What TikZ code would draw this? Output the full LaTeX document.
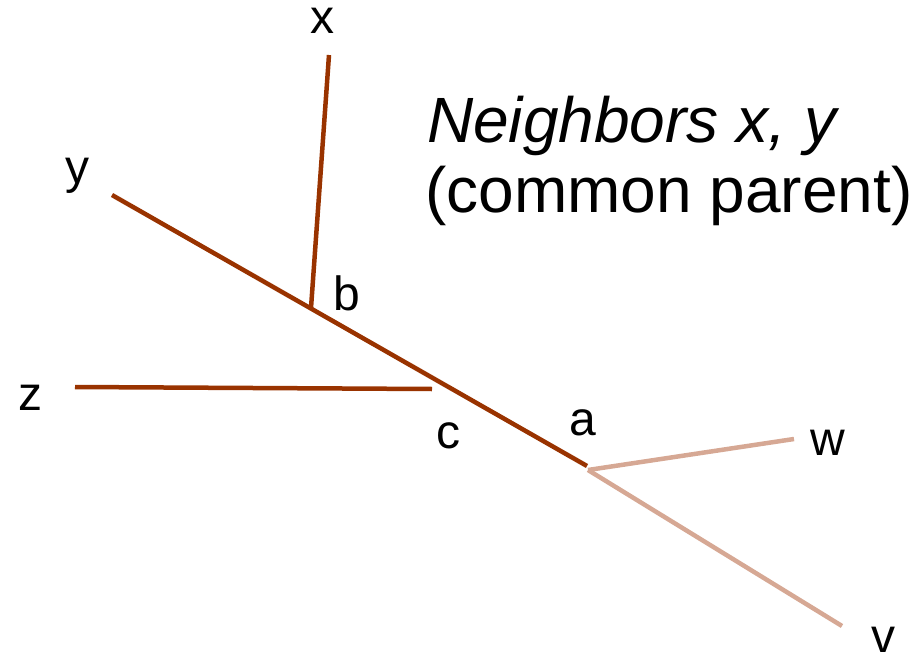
\documentclass[tikz,border=0pt]{standalone}
\usepackage{fontspec}
\setmainfont{Liberation Sans}
\definecolor{darkbr}{RGB}{153,51,0}
\definecolor{lightbr}{RGB}{214,168,148}
\begin{document}
\begin{tikzpicture}[x=1pt,y=-1pt,
  edge/.style={line width=4.5pt,color=darkbr},
  ledge/.style={line width=4.5pt,color=lightbr},
  lbl/.style={anchor=base,inner sep=0pt,font=\fontsize{48}{56}\selectfont},
  ttl/.style={anchor=base west,inner sep=0pt,font=\fontsize{64}{72}\selectfont}]
\useasboundingbox (0,0) rectangle (919,653);
% tree points
\coordinate (ye) at (112,195);
\coordinate (bb) at (311,308);
\coordinate (aa) at (587,466);
\coordinate (xe) at (329,55);
\coordinate (ze) at (75,387);
\coordinate (ce) at (432,389);
\coordinate (ja) at (588,470);
\coordinate (we) at (794,439);
\coordinate (ve) at (842,626);
\draw[edge] (ye) -- (aa);
\draw[edge] (xe) -- (bb);
\draw[edge] (ze) -- (ce);
\draw[ledge] (ja) -- (we);
\draw[ledge] (ja) -- (ve);
% labels
\node[lbl] (lx) at (322,33) {x};
\node[lbl] (ly) at (77,183) {y};
\node[lbl] (lb) at (347,310) {b};
\node[lbl] (lz) at (31,410) {z};
\node[lbl] (lc) at (448,448) {c};
\node[lbl] (la) at (583,435) {a};
\node[lbl] (lw) at (828,455) {w};
\node[lbl] (lv) at (883,652) {v};
\node[ttl] (t1) at (427,142) {\itshape Neighbors x, y};
\node[ttl] (t2) at (425,212) {(common parent)};
\end{tikzpicture}
\end{document}
